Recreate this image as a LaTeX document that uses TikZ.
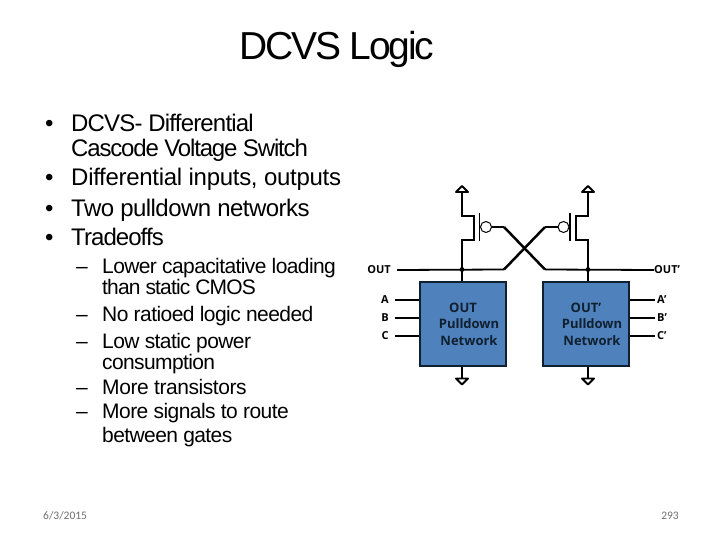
\documentclass[tikz,border=0pt]{standalone}
\usepackage{fontspec}
\setmainfont{Liberation Sans}
\newfontfamily\titlefont[LetterSpace=-5.5]{Liberation Sans}
\newfontfamily\labelfont{Open Sans}
\newfontfamily\footfont{Carlito}
\definecolor{boxblue}{HTML}{4F81BD}
\definecolor{boxline}{HTML}{10202F}
\definecolor{footgray}{HTML}{6F6F6F}
\tikzset{
  bodyline/.style={anchor=base west, inner sep=0pt, font=\fontsize{24}{24}\selectfont},
  subline/.style={anchor=base west, inner sep=0pt, font=\fontsize{21}{21}\selectfont},
  wire/.style={line width=1.8pt, black},
  crosswire/.style={line width=2.5pt, black},
  sigtext/.style={inner sep=0pt, font=\labelfont\fontsize{11}{11}\selectfont\bfseries},
  pulldown/.style={draw=boxline, line width=2pt, fill=boxblue, minimum width=86pt, minimum height=84pt,
    inner sep=0pt, align=center, text=boxline, font=\labelfont\fontsize{13}{16.5}\selectfont\bfseries},
  rail/.style={line width=1.9pt, black, fill=white, line join=round},
  foottext/.style={inner sep=0pt, text=footgray, font=\footfont\fontsize{11.5}{11.5}\selectfont}
}
\begin{document}
\begin{tikzpicture}[x=1pt,y=-1pt]
  \useasboundingbox (0,0) rectangle (720,540);
  % Title
  \node[anchor=base west, inner sep=0pt, font=\titlefont\fontsize{39}{39}\selectfont] (title) at (239,60) {DCVS Logic};
  % Bullets
  \foreach \n/\ypos/\trk/\txt/\mark in {
    a/132/-3.4/{DCVS- Differential}/1, b/157/-4.85/{Cascode Voltage Switch}/0,
    c/186/-1.2/{Differential inputs, outputs}/1, d/216/-2.25/{Two pulldown networks}/1,
    e/245/-3.9/{Tradeoffs}/1
  } {
    \node[bodyline] (bullettext\n) at (71,\ypos) {\addfontfeature{LetterSpace=\trk}\txt};
    \ifnum\mark=1
      \node[bodyline] (bullet\n) at (45,\ypos) {•};
    \fi
  }
  % Sub bullets
  \foreach \n/\ypos/\trk/\txt/\mark in {
    a/273/-2.86/{Lower capacitative loading}/1, b/294/-4/{than static CMOS}/0,
    c/321/-2.66/{No ratioed logic needed}/1, d/348/-2.76/{Low static power}/1,
    e/369/-2.92/{consumption}/0, f/394/-2.1/{More transistors}/1,
    g/418/-2.68/{More signals to route}/1, h/442/-2.8/{between gates}/0
  } {
    \node[subline] (subtext\n) at (102,\ypos) {\addfontfeature{LetterSpace=\trk}\txt};
    \ifnum\mark=1
      \node[subline] (dash\n) at (76,\ypos) {–};
    \fi
  }
  % Pulldown networks
  \node[pulldown] (netl) at (463,324) {OUT\\\hspace*{12pt}Pulldown\\\hspace*{12pt}Network};
  \node[pulldown] (netr) at (586,324) {OUT’\\\hspace*{12pt}Pulldown\\\hspace*{12pt}Network};
  % Signal labels
  \node[sigtext, anchor=east] (outl) at (391,270) {OUT};
  \node[sigtext, anchor=west] (outr) at (654,270) {OUT’};
  \foreach \n/\ypos/\txt in {a/300/A, b/318/B, c/336/C} {
    \node[sigtext] (inl\n) at (385,\ypos) {\txt};
    \node[sigtext, anchor=west] (inr\n) at (657,\ypos) {\txt’};
    \draw[wire] (netl.west |- inl\n) -- ++(-24,0);
    \draw[wire] (netr.east |- inr\n) -- ++(25,0);
  }
  % Junctions and rails
  \coordinate (jl) at (462,269.5);
  \coordinate (jr) at (588,269.5);
  \coordinate (vl) at (462,192);
  \coordinate (vr) at (588,192);
  \coordinate (gl) at (462,378.5);
  \coordinate (gr) at (588,378.5);
  \coordinate (xl) at (504,269.5);
  \coordinate (xr) at (545,269.5);
  \coordinate (tl) at (504,227);
  \coordinate (tr) at (545,227);
  \draw[wire] (outl.east)++(6,0) -- (xl);
  \draw[wire] (outr.west) -- (xr);
  \draw[wire] (tl) -- (492,227);
  \draw[wire] (tr) -- (570,227);
  \draw[crosswire] (xl) -- (tr);
  \draw[crosswire] (xr) -- (tl);
  \fill (jl) circle (2.4pt);
  \fill (jr) circle (2.4pt);
  \draw[wire] (netl.north -| jl) -- (jl) -- (462,240) -- (474,240) -- (474,216) -- (462,216) -- (vl);
  \draw[wire] (netr.north -| jr) -- (jr) -- (588,240) -- (576,240) -- (576,216) -- (588,216) -- (vr);
  \draw[wire] (netl.south -| gl) -- (gl);
  \draw[wire] (netr.south -| gr) -- (gr);
  % Gates
  \draw[wire] (479.5,213) -- (479.5,241);
  \draw[wire] (570,213) -- (570,241);
  \draw[line width=1pt, fill=white] (486,227) circle (5.5pt);
  \draw[line width=1pt, fill=white] (563.5,227) circle (5.5pt);
  % Supply and ground
  \foreach \c in {vl,vr} {
    \draw[rail] (\c)++(-6,0) -- ++(12,0) -- ++(-6,-6) -- cycle;
  }
  \foreach \c in {gl,gr} {
    \draw[rail] (\c)++(-6,0) -- ++(12,0) -- ++(-6,6) -- cycle;
  }
  % Footer
  \node[foottext, anchor=base west] (date) at (43,519) {6/3/2015};
  \node[foottext, anchor=base east] (page) at (679,519) {293};
\end{tikzpicture}
\end{document}
